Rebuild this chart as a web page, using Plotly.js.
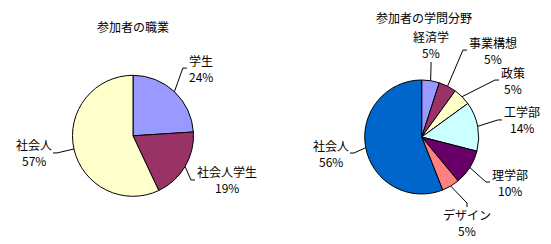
<!DOCTYPE html>
<html>
<head>
<meta charset="utf-8">
<script src="https://cdn.plot.ly/plotly-3.0.1.min.js"></script>
<style>
  html, body { margin: 0; padding: 0; background: #fff; }
  #chart { width: 551px; height: 244px; }
</style>
</head>
<body>
<div id="chart"></div>
<script>
// ---- data ----
const jobTitle = '参加者の職業';
const jobLabels = ['学生', '社会人学生', '社会人'];
const jobValues = [24, 19, 57];

const fieldTitle = '参加者の学問分野';
const fieldLabels = ['経済学', '事業構想', '政策', '工学部', '理学部', 'デザイン', '社会人'];
const fieldValues = [5, 5, 5, 14, 10, 5, 56];

// ---- style ----
const W = 551, H = 244;
const FONT = '"Noto Sans CJK JP", "Noto Sans", sans-serif';
const FONT_SIZE = 12;
const LINE_STEP = 16;
const jobColors = ['#9999FF', '#993366', '#FFFFCC'];
const fieldColors = ['#9999FF', '#993366', '#FFFFCC', '#CCFFFF', '#660066', '#FF8080', '#0066CC'];

// pie geometry in pixels (centre, radius) and per-label placement:
// gap = distance of the label end of the leader beyond the rim,
// turn = angular nudge (degrees) of that end away from the slice middle
const charts = [
  { title: jobTitle, labels: jobLabels, values: jobValues, colors: jobColors,
    cx: 133, cy: 135.8, r: 60.5, titleX: 133, titleY: 26,
    gap: [26, 15.6, 21.3], turn: [-4.7, 4.9, 0.5], side: [] },
  { title: fieldTitle, labels: fieldLabels, values: fieldValues, colors: fieldColors,
    cx: 421.7, cy: 137, r: 57, titleX: 424, titleY: 17,
    gap: [18.6, 41, 39, 25, 24.8, 26.4, 16.5], turn: [-1.9, 0.5, 8.6, -1.2, 1, -2.3, -1.8],
    side: [null, 'right'] }
];

const px = x => x / W;
const py = y => 1 - y / H;

// text width measurement for centring the two label lines inside one block
const ctx = document.createElement('canvas').getContext('2d');
ctx.font = FONT_SIZE + 'px ' + FONT;
const textW = t => ctx.measureText(t).width;

const traces = [];
const shapes = [];
const annotations = [];
const LINE = { color: '#000', width: 1 };

function addText(text, x, y) {
  annotations.push({
    xref: 'paper', yref: 'paper', x: px(x), y: py(y),
    xanchor: 'center', yanchor: 'middle', showarrow: false, borderpad: 0,
    text, font: { family: FONT, size: FONT_SIZE, color: '#000' }
  });
}
function addLine(x0, y0, x1, y1) {
  shapes.push({ type: 'line', xref: 'paper', yref: 'paper',
    x0: px(x0), y0: py(y0), x1: px(x1), y1: py(y1), line: LINE });
}

charts.forEach(c => {
  traces.push({
    type: 'pie',
    labels: c.labels,
    values: c.values,
    sort: false,
    direction: 'clockwise',
    rotation: 0,
    textinfo: 'none',
    hoverinfo: 'none',
    showlegend: false,
    marker: { colors: c.colors, line: { color: '#000', width: 1 } },
    domain: {
      x: [px(c.cx - c.r), px(c.cx + c.r)],
      y: [py(c.cy + c.r), py(c.cy - c.r)]
    }
  });

  addText(c.title, c.titleX, c.titleY);

  const total = c.values.reduce((a, b) => a + b, 0);
  let cum = 0;
  c.values.forEach((v, i) => {
    const name = c.labels[i];
    const pct = v + '%';
    const mid = (cum + v / 2) / total * 2 * Math.PI;
    cum += v;
    const ang = mid + c.turn[i] * Math.PI / 180;
    const s = Math.sin(mid), co = Math.cos(mid);
    let side = c.side[i];
    if (!side) side = s > 0.6 ? 'right' : (s < -0.6 ? 'left' : (co > 0 ? 'top' : 'bottom'));

    // leader line from the rim of the slice to the label
    const rimX = c.cx + c.r * s, rimY = c.cy - c.r * co;
    const d = c.r + c.gap[i];
    const endX = c.cx + d * Math.sin(ang), endY = c.cy - d * Math.cos(ang);
    if (side === 'right' || side === 'left') {
      const kx = endX - 4 * (side === 'right' ? 1 : -1);
      addLine(rimX, rimY, kx, endY);
      addLine(kx, endY, endX, endY);
    } else {
      const ky = endY + 4 * (side === 'top' ? 1 : -1);
      addLine(rimX, rimY, endX, ky);
      addLine(endX, ky, endX, endY);
    }

    // two-line label block: name above, percentage below
    const bw = Math.max(textW(name), textW(pct));
    let bx, nameY;
    if (side === 'right') {
      bx = endX + 2 + bw / 2; nameY = endY - LINE_STEP / 2;
    } else if (side === 'left') {
      bx = endX - 1 - bw / 2; nameY = endY - LINE_STEP / 2;
    } else if (side === 'top') {
      bx = endX; nameY = endY - 9 - LINE_STEP;
    } else {
      bx = endX; nameY = endY + 7;
    }
    addText(name, bx, nameY);
    addText(pct, bx, nameY + LINE_STEP);
  });
});

const layout = {
  width: W, height: H,
  margin: { l: 0, r: 0, t: 0, b: 0 },
  paper_bgcolor: '#fff', plot_bgcolor: '#fff',
  font: { family: FONT, size: FONT_SIZE, color: '#000' },
  shapes, annotations
};

Plotly.newPlot('chart', traces, layout, { staticPlot: true, displayModeBar: false });
</script>
</body>
</html>
